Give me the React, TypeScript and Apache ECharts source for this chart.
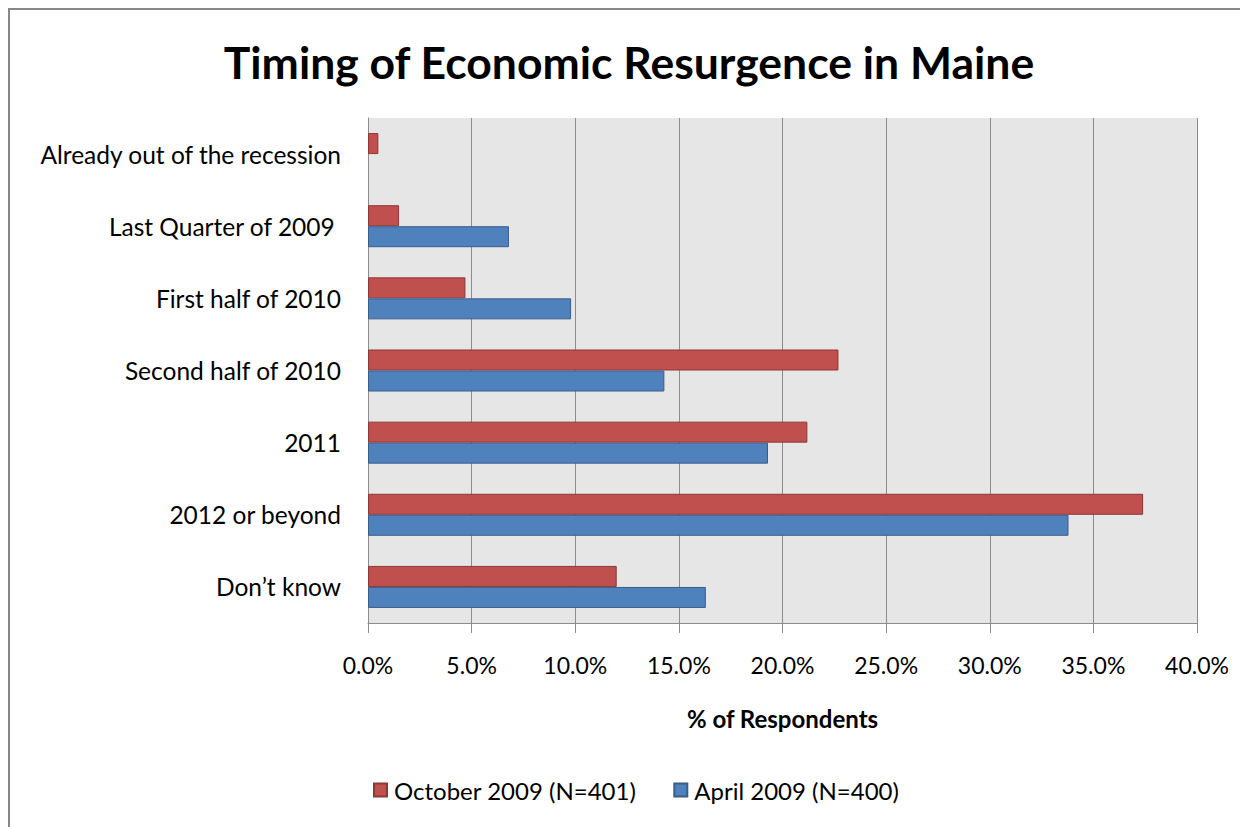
import React, { useEffect, useRef } from "react";
import * as echarts from "echarts";

const categories = [
  "Already out of the recession",
  "Last Quarter of 2009 ",
  "First half of 2010",
  "Second half of 2010",
  "2011",
  "2012 or beyond",
  "Don\u2019t know",
];
const october2009 = [0.5, 1.5, 4.7, 22.7, 21.2, 37.4, 12.0];
const april2009 = [null, 6.8, 9.8, 14.3, 19.3, 33.8, 16.3];
const seriesNames = ["October 2009 (N=401)", "April 2009 (N=400)"];
const FONT = "Lato, 'Open Sans', sans-serif";

export default function App() {
  const ref = useRef<HTMLDivElement>(null);
  useEffect(() => {
    if (!ref.current) return;
    const chart = echarts.init(ref.current, undefined, { renderer: "svg" });
    chart.setOption({
      animation: false,
      backgroundColor: "#ffffff",
      title: {
        text: "Timing of Economic Resurgence in Maine",
        left: "center",
        top: 24,
        textStyle: { fontFamily: FONT, fontSize: 44.5, fontWeight: "bold", color: "#000" },
      },
      legend: {
        bottom: 20,
        left: 358,
        itemWidth: 13,
        itemHeight: 13,
        itemGap: 37,
        icon: "rect",
        textStyle: { fontFamily: FONT, fontSize: 24, color: "#000", padding: [0, 0, 0, 2] },
        data: seriesNames,
      },
      grid: { left: 358, top: 108, width: 829, height: 505, backgroundColor: "#e6e6e6", show: true, borderWidth: 0 },
      xAxis: {
        type: "value",
        min: 0,
        max: 40,
        interval: 5,
        name: "% of Respondents",
        nameLocation: "middle",
        nameGap: 83,
        nameTextStyle: { fontFamily: FONT, fontSize: 24, fontWeight: "bold", color: "#000" },
        axisLine: { show: true, lineStyle: { color: "#8c8c8c", width: 1 } },
        axisTick: { show: true, length: 10, lineStyle: { color: "#8c8c8c" } },
        axisLabel: { fontFamily: FONT, fontSize: 23, color: "#000", margin: 30, formatter: (v: number) => v.toFixed(1) + "%" },
        splitLine: { show: true, lineStyle: { color: "#8c8c8c", width: 1 } },
      },
      yAxis: {
        type: "category",
        inverse: true,
        data: categories,
        axisLine: { show: true, lineStyle: { color: "#8c8c8c", width: 1 } },
        axisTick: { show: false },
        axisLabel: { fontFamily: FONT, fontSize: 24.5, color: "#000", margin: 27 },
      },
      series: [
        {
          name: seriesNames[0],
          type: "bar",
          data: october2009,
          barWidth: 21,
          barGap: "0%",
          barCategoryGap: "42%",
          itemStyle: { color: "#c0504d", borderColor: "#8c3836", borderWidth: 1 },
        },
        {
          name: seriesNames[1],
          type: "bar",
          data: april2009,
          barWidth: 21,
          barGap: "0%",
          barCategoryGap: "42%",
          itemStyle: { color: "#4f81bd", borderColor: "#385d8a", borderWidth: 1 },
        },
      ],
    });
    return () => chart.dispose();
  }, []);
  return (
    <div
      ref={ref}
      style={{
        width: 1238,
        height: 817,
        borderLeft: "2px solid #888",
        borderTop: "2px solid #888",
      }}
    />
  );
}
